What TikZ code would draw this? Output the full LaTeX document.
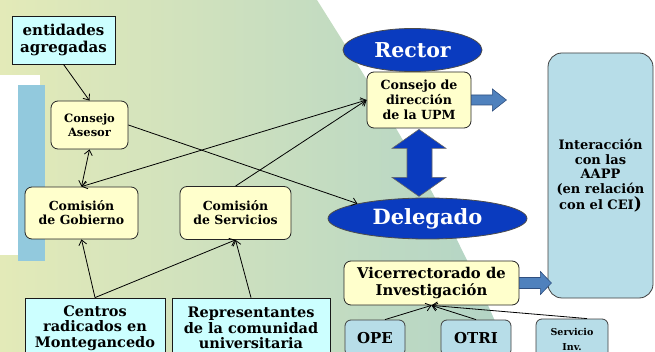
\documentclass[tikz,border=0pt]{standalone}
\usepackage{fontspec}
\setmainfont{DejaVu Serif}
\usetikzlibrary{shapes.geometric,arrows.meta,calc}
\definecolor{ybox}{HTML}{FFFFCC}
\definecolor{cbox}{HTML}{CCFFFF}
\definecolor{lbox}{HTML}{B7DDE8}
\definecolor{dblue}{HTML}{0A3BBF}
\definecolor{mblue}{HTML}{4F81BD}
\definecolor{mbluedk}{HTML}{2F4F7F}
\definecolor{barblue}{HTML}{92C9DD}
\definecolor{bgL}{HTML}{E3EAB8}
\definecolor{bgM}{HTML}{D6E4BE}
\definecolor{bgR}{HTML}{B2D4C6}
\tikzset{
  every node/.style={font=\bfseries, align=center, inner sep=1pt},
  ybx/.style={draw=black!85, line width=0.8pt, fill=ybox, rounded corners=7pt},
  cbx/.style={draw=black!90, line width=0.8pt, fill=cbox},
  lbx/.style={draw=black!75, line width=0.8pt, fill=lbox, rounded corners=6pt},
  ell/.style={ellipse, draw=black!70, line width=0.8pt, fill=dblue, text=white},
  conn/.style={line width=0.8pt, black, -{Straight Barb[length=5pt,width=8pt]}},
  dconn/.style={line width=0.8pt, black, {Straight Barb[length=5pt,width=8pt]}-{Straight Barb[length=5pt,width=8pt]}},
  fat/.style={fill=mblue, draw=mbluedk, line width=0.6pt},
  dfat/.style={fill=dblue, draw=black!60, line width=0.6pt}
}
\begin{document}
\begin{tikzpicture}[x=1pt,y=-1pt]
\useasboundingbox (0,0) rectangle (655,352);
\clip (0,0) rectangle (655,352);
\fill[white] (0,0) rectangle (655,352);
% background
\shade[left color=bgL, middle color=bgM, right color=bgR]
  (0,0) -- (317,0) .. controls (380,100) and (450,210) .. (508,352) -- (0,352) -- cycle;
\fill[white] (0,75) rectangle (40,255);
\fill[barblue] (18,85) rectangle (45,261);

% nodes
\node[cbx, minimum width=103, minimum height=48, font=\bfseries\fontsize{15}{17}\selectfont] (ent) at (63.5,40) {entidades\\agregadas};
\node[ybx, minimum width=77, minimum height=48, font=\bfseries\fontsize{11.5}{14}\selectfont] (asesor) at (89.5,125) {Consejo\\Asesor};
\node[ybx, minimum width=113, minimum height=52, font=\bfseries\fontsize{12.5}{14}\selectfont] (gob) at (81.5,213) {Comisión\\de Gobierno};
\node[ybx, minimum width=111, minimum height=53, font=\bfseries\fontsize{12.5}{14}\selectfont] (serv) at (235.5,213) {Comisión\\de Servicios};
\node[cbx, minimum width=140, minimum height=60, font=\bfseries\fontsize{14.5}{15.5}\selectfont] (centros) at (95,328) {Centros\\radicados en\\Montegancedo};
\node[cbx, minimum width=158, minimum height=60, font=\bfseries\fontsize{14.5}{15.5}\selectfont] (repr) at (251,328) {Representantes\\de la comunidad\\universitaria};

\node[ell, minimum width=139, minimum height=43, font=\bfseries\fontsize{20.5}{22}\selectfont] (rector) at (412.5,50) {Rector};
\node[ybx, minimum width=104, minimum height=56, font=\bfseries\fontsize{12.6}{15}\selectfont] (cdir) at (419,100) {Consejo de\\dirección\\de la UPM};
\node[ell, minimum width=199, minimum height=41, font=\bfseries\fontsize{21}{23}\selectfont] (deleg) at (427.5,218.5) {Delegado};
\node[ybx, minimum width=175, minimum height=44, font=\bfseries\fontsize{14.8}{17}\selectfont] (vice) at (431.5,283) {Vicerrectorado de\\Investigación};
\node[lbx, rounded corners=14pt, minimum width=105, minimum height=245, font=\bfseries\fontsize{13}{14.8}\selectfont] (inter) at (600.5,175.5) {Interacción\\con las\\AAPP\\(en relación\\con el CEI{\fontsize{17}{15}\selectfont)}};
\node[lbx, minimum width=60, minimum height=36, font=\bfseries\fontsize{15}{17}\selectfont] (ope) at (375,338) {OPE};
\node[lbx, minimum width=70, minimum height=36, font=\bfseries\fontsize{15}{17}\selectfont] (otri) at (476,338) {OTRI};
\node[lbx, minimum width=72, minimum height=40, font=\bfseries\fontsize{9.5}{15}\selectfont] (servinv) at (572,339) {Servicio\\Inv.};

% connectors
\draw[conn] (ent.south) -- (asesor.north);
\draw[dconn] (asesor.south) -- (gob.north);
\draw[dconn] (gob.north) -- (cdir.west);
\draw[conn] (serv.north) -- (cdir.west);
\draw[conn] (asesor.east) -- (deleg.168);
\draw[conn] (centros.north) -- (gob.south);
\draw[conn] (centros.north) -- (serv.south);
\draw[conn] (repr.north) -- (serv.south);
\draw[conn] ([xshift=10pt]ope.north) -- (vice.south);
\draw[conn] (otri.north) -- (vice.south);
\draw[conn] ([xshift=15pt]servinv.north) -- (vice.south);

% fat arrows
\draw[fat] (cdir.east) ++(0,5) -- ++(21,0) -- ++(0,6) -- ++(14,-11) -- ++(-14,-11) -- ++(0,6) -- ++(-21,0) -- cycle;
\draw[fat] (vice.east) ++(0,5.5) -- ++(21,0) -- ++(0,6) -- ++(11,-11.5) -- ++(-11,-11.5) -- ++(0,6) -- ++(-21,0) -- cycle;
\draw[dfat] ($(cdir.south)+(0,1)$) -- ++(27,19) -- ++(-14,0) -- ++(0,29) -- ++(14,0) -- ++(-27,19) -- ++(-27,-19) -- ++(15,0) -- ++(0,-29) -- ++(-15,0) -- cycle;
\end{tikzpicture}
\end{document}
